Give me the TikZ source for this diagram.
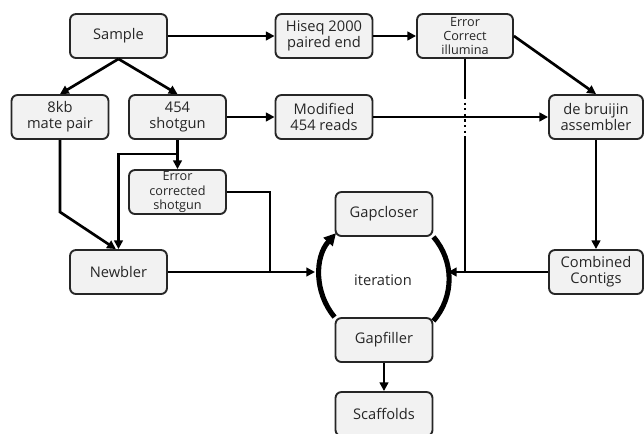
\documentclass[tikz,border=0pt]{standalone}
\usepackage{fontspec}
\setmainfont{Open Sans}
\usetikzlibrary{arrows.meta}
\begin{document}
\begin{tikzpicture}[x=0.75pt,y=-0.75pt,
  box/.style={draw=black!85, line width=1.4pt, rounded corners=4.5pt, fill=black!5,
    minimum width=72.75pt, minimum height=33pt, align=center, inner sep=1pt,
    font=\fontsize{11}{12}\selectfont, text=black!85},
  smallbox/.style={box, font=\fontsize{9.5}{10.7}\selectfont},
  conn/.style={line width=2pt, -{Triangle[length=6.5pt,width=6.5pt]}},
  plainline/.style={line width=2pt},
  hopline/.style={line width=2pt, dash pattern=on 1.6pt off 2.6pt},
  cycle/.style={line width=3.8pt},
]
\useasboundingbox (0,0) rectangle (644,433);

% nodes
\node[box] (sample) at (118.5,36) {Sample};
\node[box] (hiseq) at (324,36) {Hiseq 2000\\paired end};
\node[smallbox, minimum width=72pt] (ecill) at (465,36) {Error\\Correct\\illumina};
\node[box] (kb) at (60,117) {8kb\\mate pair};
\node[box] (s454) at (177.5,117) {454\\shotgun};
\node[box] (mod) at (324,117) {Modified\\454 reads};
\node[box, minimum width=70.5pt] (debruijn) at (596,117) {de bruijin\\assembler};
\node[smallbox] (ecs) at (177.5,192) {Error\\corrected\\shotgun};
\node[box] (newbler) at (118.5,272) {Newbler};
\node[box] (gapcloser) at (384,214) {Gapcloser};
\node[box, minimum width=70.5pt] (combined) at (596,272) {Combined\\Contigs};
\node[box] (gapfiller) at (384,340) {Gapfiller};
\node[box] (scaffolds) at (384,414) {Scaffolds};
\node[font=\fontsize{11}{12}\selectfont, text=black!85] (iter) at (383,280) {iteration};

% helper coordinates
\coordinate (k1) at (177.5,154);
\coordinate (kbc) at (60,212);
\coordinate (j1) at (270,272);
\coordinate (cycL) at (315,272);
\coordinate (cycR) at (448,272);
\coordinate (d1) at (465,97);
\coordinate (d2) at (465,137);
\coordinate (d3) at (465,272);

% connectors
\draw[conn] (sample.east) -- (hiseq.west);
\draw[conn] (hiseq.east) -- (ecill.west);
\draw[conn] (sample.south) -- (kb.north);
\draw[conn] (sample.south) -- (s454.north);
\draw[conn] (s454.east) -- (mod.west);
\draw[conn] (mod.east) -- (debruijn.west);
\draw[conn] (ecill.east) -- (debruijn.north);
\draw[conn] (s454.south) -- (ecs.north);
\draw[conn] (k1) -| (newbler.north);
\draw[conn] (kb.south) -- (kbc) -- ([xshift=-2pt]newbler.north);
\draw[plainline] (ecs.east) -| (j1);
\draw[conn] (newbler.east) -- (cycL);
\draw[plainline] (ecill.south) -- (d1);
\draw[hopline] (d1) -- (d2);
\draw[plainline] (d2) -- (d3);
\draw[conn] (debruijn.south) -- (combined.north);
\draw[conn] (combined.west) -- (cycR);
\draw[conn] (gapfiller.south) -- (scaffolds.north);

% iteration cycle
\draw[cycle, -{Triangle[length=9pt,width=9pt]}] (gapfiller.north west) arc[start angle=140, end angle=222, radius=64];
\draw[cycle] (gapcloser.south east) arc[start angle=-41, end angle=41, radius=64];
\end{tikzpicture}
\end{document}
